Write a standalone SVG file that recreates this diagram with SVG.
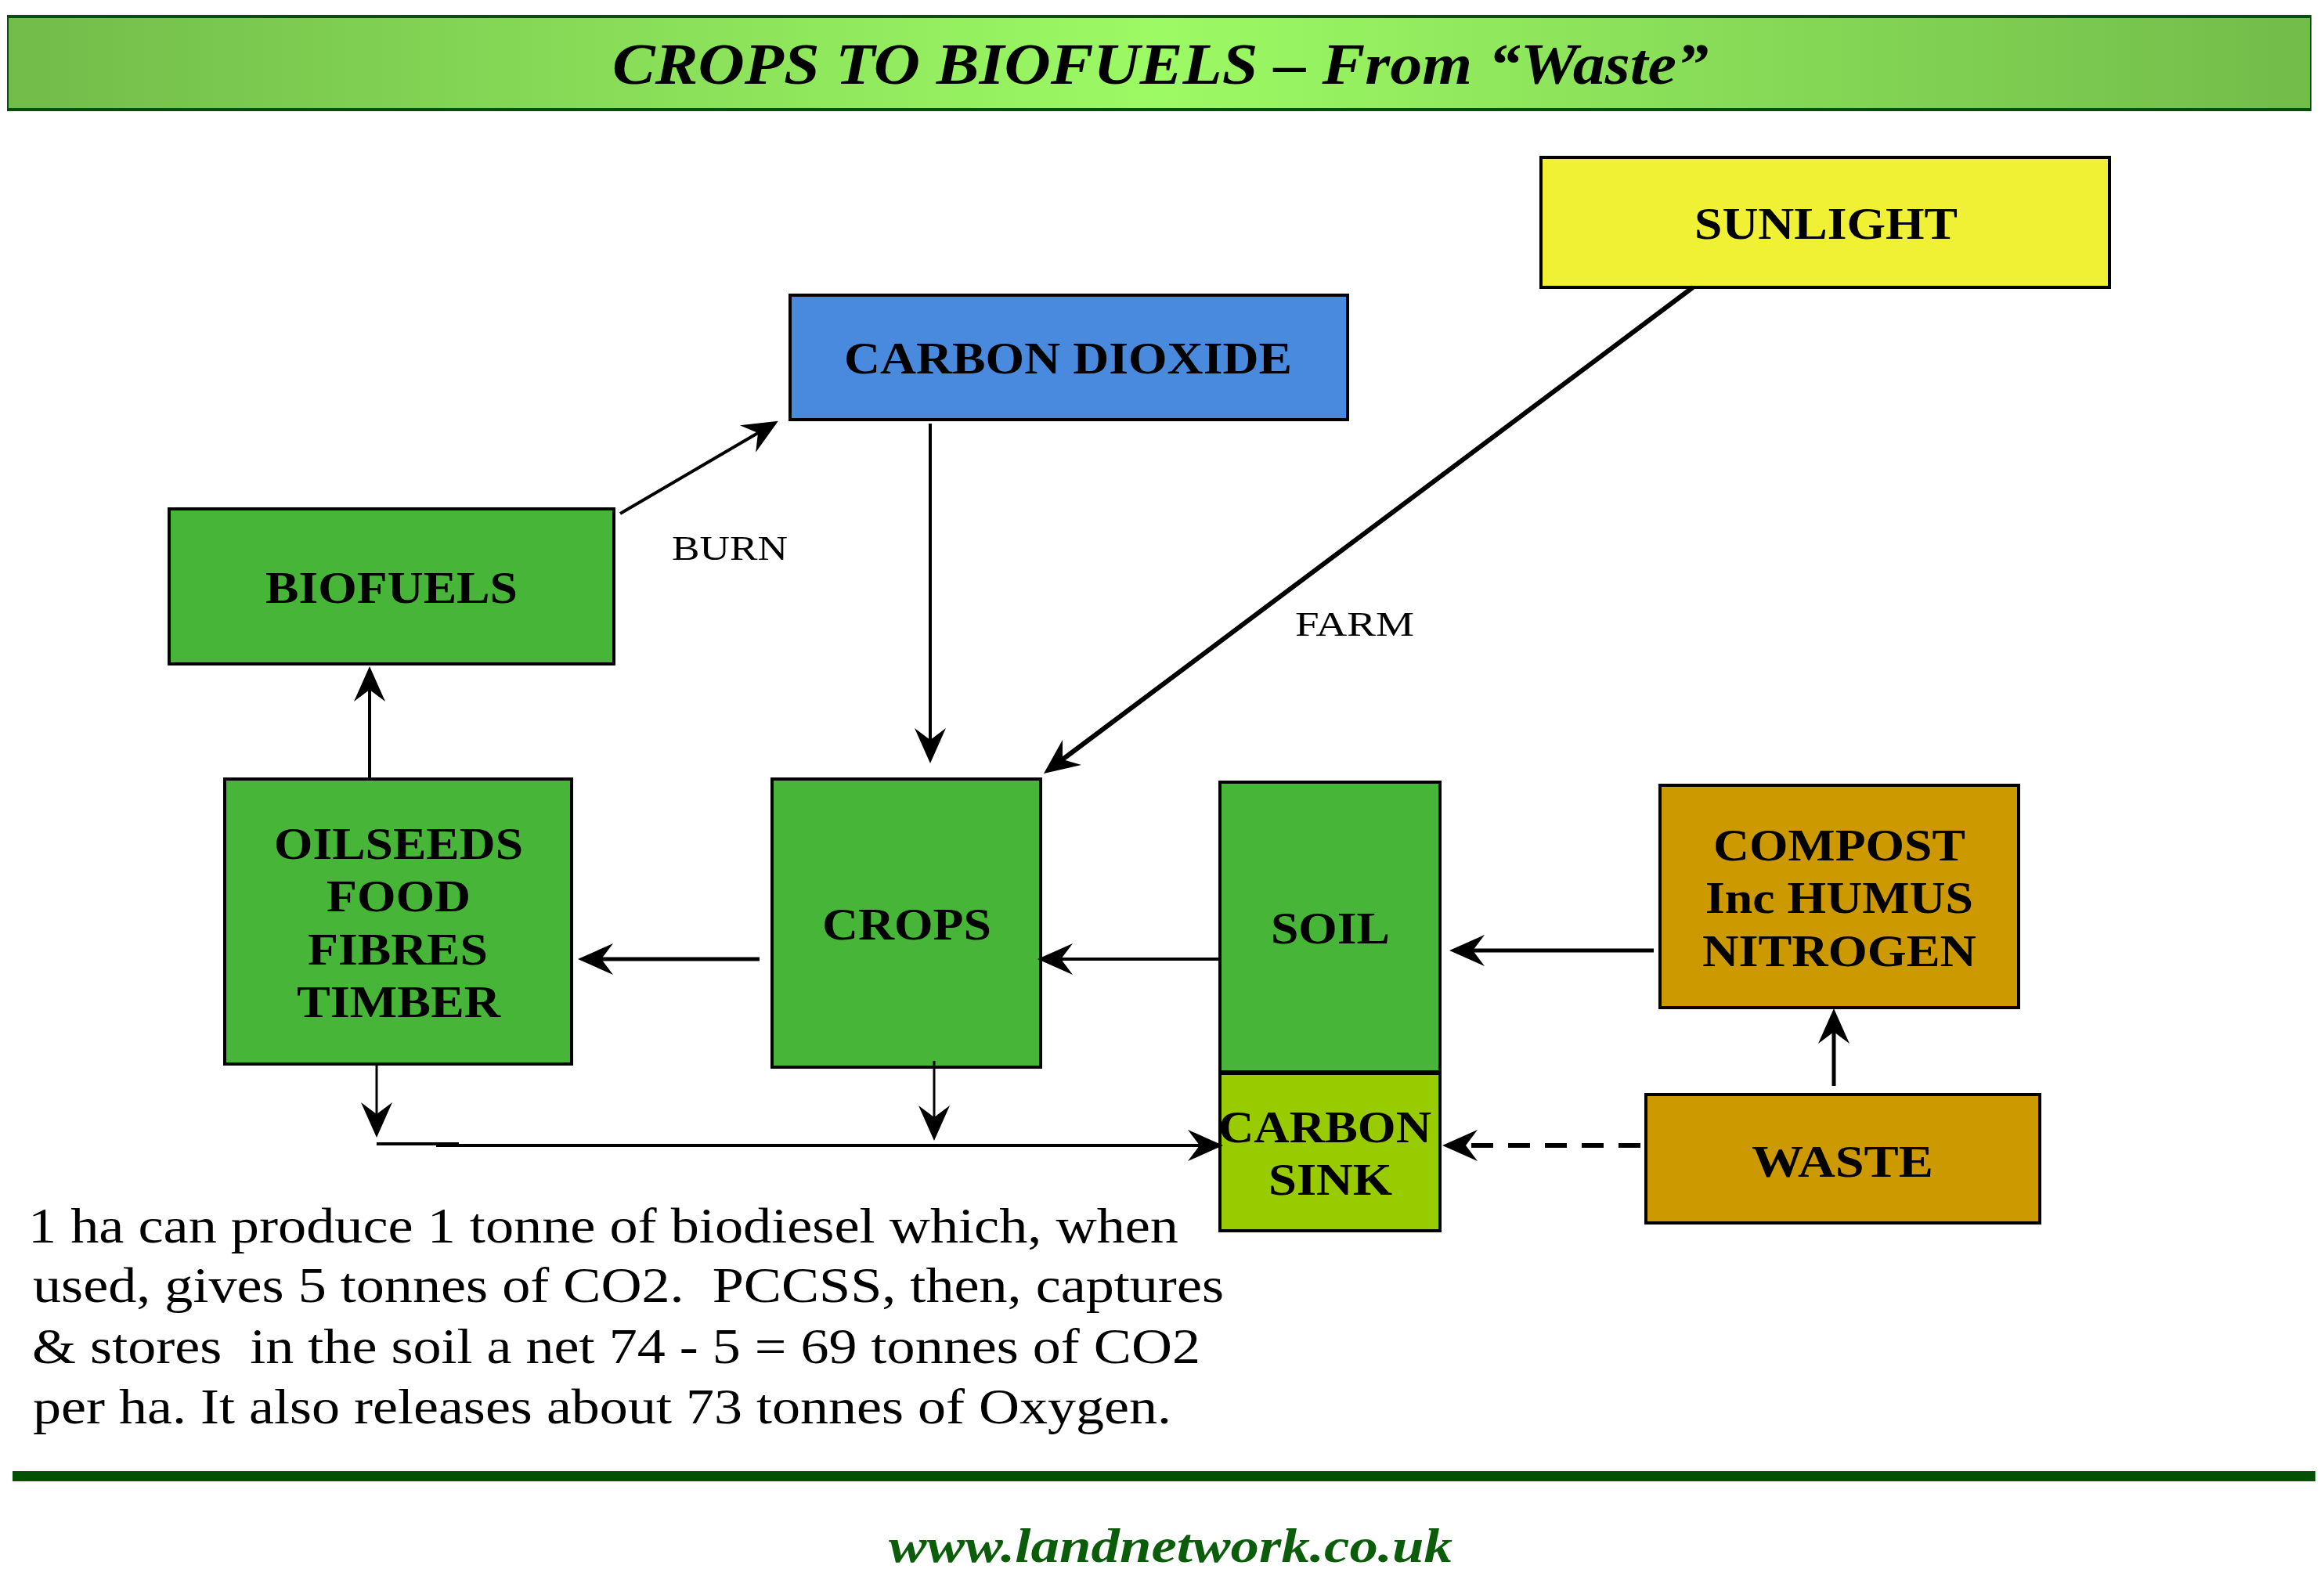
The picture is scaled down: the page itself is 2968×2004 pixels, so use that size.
<svg xmlns="http://www.w3.org/2000/svg" width="2968" height="2004" viewBox="0 0 2968 2004">
<defs>
<linearGradient id="titleGrad" x1="0" y1="0" x2="1" y2="0">
<stop offset="0" stop-color="#72BC4A"/>
<stop offset="0.5" stop-color="#9CFA64"/>
<stop offset="1" stop-color="#72BC4A"/>
</linearGradient>
<marker id="ah" markerUnits="userSpaceOnUse" viewBox="-16 -21 47 42" refX="0" refY="0" markerWidth="47" markerHeight="42" orient="auto">
<path d="M30,0 L-15,-20 L0,0 L-15,20 Z" fill="#000"/>
</marker>
<style>
.box{stroke:#000;stroke-width:4}
.green{fill:#47B537}
.lbl{font-family:"Liberation Serif","Times New Roman",serif;font-weight:bold;font-size:58px;fill:#000;text-anchor:middle}
.edge{font-family:"Liberation Serif","Times New Roman",serif;font-size:45px;fill:#000}
.body{font-family:"Liberation Serif","Times New Roman",serif;font-size:63px;fill:#000;white-space:pre}
.ln{stroke:#000;fill:none}
</style>
</defs>
<rect width="2968" height="2004" fill="#fff"/>

<g id="title">
<rect x="10" y="21" width="2941" height="119" fill="url(#titleGrad)" stroke="#045004" stroke-width="2"/>
<line x1="9" y1="21" x2="2952" y2="21" stroke="#045004" stroke-width="4"/>
<line x1="9" y1="140" x2="2952" y2="140" stroke="#045004" stroke-width="4"/>
<text x="1482" y="107" font-family="'Liberation Serif','Times New Roman',serif" font-weight="bold" font-style="italic" font-size="74" text-anchor="middle" textLength="1400" lengthAdjust="spacingAndGlyphs" fill="#000">CROPS TO BIOFUELS – From “Waste”</text>
</g>

<g id="sunlight">
<rect class="box" x="1968" y="201" width="726" height="166" fill="#F0F034"/>
<text class="lbl" x="2332" y="305" textLength="336" lengthAdjust="spacingAndGlyphs">SUNLIGHT</text>
</g>

<g id="carbon-dioxide">
<rect class="box" x="1009" y="377" width="712" height="159" fill="#4A8ADE"/>
<text class="lbl" x="1364" y="477" textLength="572" lengthAdjust="spacingAndGlyphs">CARBON DIOXIDE</text>
</g>

<g id="biofuels">
<rect class="box green" x="216" y="650" width="568" height="198"/>
<text class="lbl" x="500" y="770" textLength="322" lengthAdjust="spacingAndGlyphs">BIOFUELS</text>
</g>

<g id="oilseeds">
<rect class="box green" x="287" y="995" width="443" height="364"/>
<text class="lbl" x="509" y="1097" textLength="318" lengthAdjust="spacingAndGlyphs">OILSEEDS</text>
<text class="lbl" x="509" y="1164" textLength="184" lengthAdjust="spacingAndGlyphs">FOOD</text>
<text class="lbl" x="508" y="1232" textLength="230" lengthAdjust="spacingAndGlyphs">FIBRES</text>
<text class="lbl" x="509" y="1299" textLength="260" lengthAdjust="spacingAndGlyphs">TIMBER</text>
</g>

<g id="crops">
<rect class="box green" x="986" y="995" width="343" height="368"/>
<text class="lbl" x="1158" y="1200" textLength="216" lengthAdjust="spacingAndGlyphs">CROPS</text>
</g>

<g id="soil">
<rect class="box green" x="1558" y="999" width="281" height="370"/>
<text class="lbl" x="1699" y="1205" textLength="152" lengthAdjust="spacingAndGlyphs">SOIL</text>
</g>

<g id="carbon-sink">
<rect class="box" x="1558" y="1371" width="281" height="201" fill="#99CC00"/>
<text class="lbl" x="1692" y="1459" textLength="272" lengthAdjust="spacingAndGlyphs">CARBON</text>
<text class="lbl" x="1699" y="1526" textLength="158" lengthAdjust="spacingAndGlyphs">SINK</text>
</g>

<g id="compost">
<rect class="box" x="2120" y="1003" width="458" height="284" fill="#CC9900"/>
<text class="lbl" x="2349" y="1099" textLength="322" lengthAdjust="spacingAndGlyphs">COMPOST</text>
<text class="lbl" x="2349" y="1166" textLength="342" lengthAdjust="spacingAndGlyphs">Inc HUMUS</text>
<text class="lbl" x="2349" y="1234" textLength="350" lengthAdjust="spacingAndGlyphs">NITROGEN</text>
</g>

<g id="waste">
<rect class="box" x="2102" y="1398" width="503" height="164" fill="#CC9900"/>
<text class="lbl" x="2353" y="1503" textLength="232" lengthAdjust="spacingAndGlyphs">WASTE</text>
</g>

<g id="connectors">
<line class="ln" x1="792" y1="656" x2="968" y2="553" stroke-width="4" marker-end="url(#ah)"/>
<line class="ln" x1="1188" y1="541" x2="1188" y2="945" stroke-width="4" marker-end="url(#ah)"/>
<line class="ln" x1="2162" y1="367" x2="1357" y2="970" stroke-width="6" marker-end="url(#ah)"/>
<line class="ln" x1="472" y1="995" x2="472" y2="881" stroke-width="4" marker-end="url(#ah)"/>
<line class="ln" x1="970" y1="1225" x2="768" y2="1225" stroke-width="5" marker-end="url(#ah)"/>
<line class="ln" x1="1557" y1="1225" x2="1355" y2="1225" stroke-width="4" marker-end="url(#ah)"/>
<line class="ln" x1="2112" y1="1214" x2="1881" y2="1214" stroke-width="5" marker-end="url(#ah)"/>
<line class="ln" x1="2342" y1="1387" x2="2342" y2="1318" stroke-width="5" marker-end="url(#ah)"/>
<line class="ln" x1="2095" y1="1463" x2="1872" y2="1463" stroke-width="6" stroke-dasharray="28 19" marker-end="url(#ah)"/>
<line class="ln" x1="481" y1="1359" x2="481" y2="1423" stroke-width="3" marker-end="url(#ah)"/>
<line class="ln" x1="1193" y1="1355" x2="1193" y2="1427" stroke-width="3" marker-end="url(#ah)"/>
<line class="ln" x1="481" y1="1461" x2="586" y2="1461" stroke-width="4"/>
<line class="ln" x1="557" y1="1463" x2="1532" y2="1463" stroke-width="4" marker-end="url(#ah)"/>
<text class="edge" x="858" y="715" textLength="148" lengthAdjust="spacingAndGlyphs">BURN</text>
<text class="edge" x="1654" y="812" textLength="152" lengthAdjust="spacingAndGlyphs">FARM</text>
</g>

<g id="note">
<text class="body" x="36" y="1587" textLength="1469" lengthAdjust="spacingAndGlyphs">1 ha can produce 1 tonne of biodiesel which, when</text>
<text class="body" x="42" y="1663" textLength="1521" lengthAdjust="spacingAndGlyphs" xml:space="preserve">used, gives 5 tonnes of CO2.  PCCSS, then, captures</text>
<text class="body" x="41" y="1741" textLength="1492" lengthAdjust="spacingAndGlyphs" xml:space="preserve">&amp; stores  in the soil a net 74 - 5 = 69 tonnes of CO2</text>
<text class="body" x="42" y="1818" textLength="1454" lengthAdjust="spacingAndGlyphs">per ha. It also releases about 73 tonnes of Oxygen.</text>
</g>

<g id="footer">
<rect x="16" y="1879" width="2941" height="13" fill="#045004"/>
<text x="1495" y="1995" font-family="'Liberation Serif','Times New Roman',serif" font-weight="bold" font-style="italic" font-size="62" text-anchor="middle" textLength="720" lengthAdjust="spacingAndGlyphs" fill="#0B5C0B">www.landnetwork.co.uk</text>
</g>
</svg>
